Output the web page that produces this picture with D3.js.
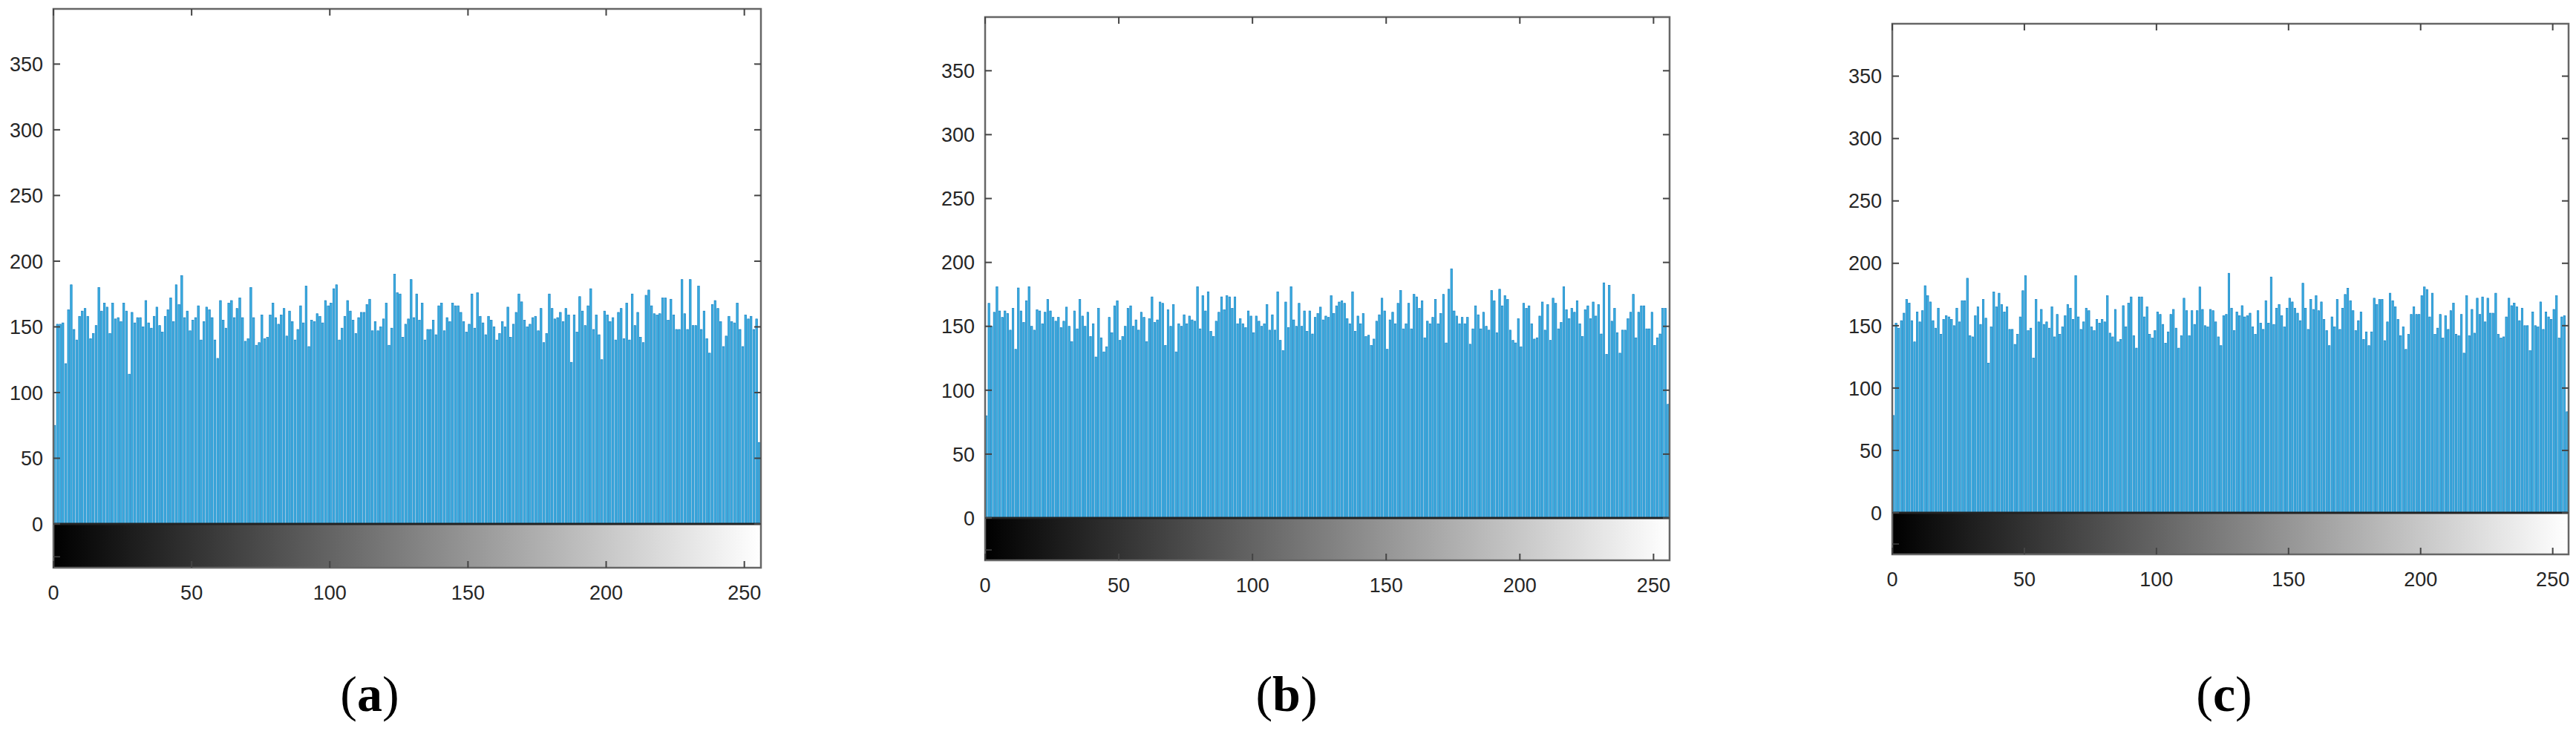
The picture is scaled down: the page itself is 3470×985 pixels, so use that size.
<!DOCTYPE html>
<html>
<head>
<meta charset="utf-8">
<script src="https://cdn.jsdelivr.net/npm/d3@7"></script>
<style>
  body { margin: 0; background: #fff; }
  svg text { font-family: "Liberation Sans", Arial, sans-serif; }
</style>
</head>
<body>
<svg id="chart"></svg>
<script>
// histogram counts per grey level (0..255)
const countsA = [75,152,152,153,122,163,182,148,140,158,162,164,158,141,145,151,180,162,168,165,145,168,156,157,154,168,162,114,161,153,157,157,150,170,153,149,158,165,151,146,158,163,172,154,182,167,189,157,162,147,155,157,166,140,154,165,163,157,140,126,170,155,149,168,170,157,164,172,157,139,141,180,157,136,138,159,141,142,159,168,157,152,159,164,143,162,154,140,148,166,153,181,135,155,154,160,158,153,170,166,168,179,182,140,149,158,170,162,155,145,157,161,161,167,171,147,154,147,150,156,168,136,149,190,176,175,142,152,156,186,157,175,155,168,140,148,148,155,144,166,168,147,157,154,168,166,166,161,154,146,152,175,149,176,158,153,144,158,155,150,140,145,154,150,165,142,152,161,175,169,155,150,152,157,158,147,164,138,145,175,164,156,157,161,154,164,159,123,159,146,173,162,151,166,179,148,159,144,125,162,159,154,157,140,161,164,141,168,140,175,151,161,142,138,174,178,166,160,159,160,172,172,155,171,159,148,148,186,160,148,186,151,151,181,148,162,141,130,167,170,164,154,135,143,158,154,153,168,148,135,159,156,158,148,156,62];
const countsB = [80,168,150,161,181,162,157,162,160,147,164,132,180,162,153,170,181,150,147,163,162,152,161,171,162,157,154,157,149,154,165,150,138,162,148,171,158,150,161,142,152,126,164,141,130,134,157,145,166,170,139,142,150,164,166,150,155,147,161,157,138,156,173,153,155,169,168,135,163,150,167,130,152,150,159,152,158,155,154,181,148,174,162,177,146,142,154,161,173,163,174,173,164,173,152,156,152,149,162,158,145,158,154,150,152,167,147,159,147,177,139,131,169,149,181,155,150,168,150,162,146,162,144,157,160,165,155,158,157,174,160,166,169,170,168,156,152,177,146,158,152,160,142,143,135,140,154,159,172,162,132,155,161,152,168,178,148,152,168,148,175,173,164,170,141,154,152,157,171,152,160,175,137,179,195,162,158,152,157,152,157,136,148,166,159,148,161,150,147,178,170,145,179,166,174,171,147,139,137,156,134,168,164,166,152,140,141,158,169,147,167,139,172,168,148,153,181,163,156,164,161,170,152,142,163,166,156,169,158,167,144,184,128,182,154,164,145,129,147,147,156,161,175,141,161,166,166,148,148,161,135,141,144,164,164,89];
const countsC = [78,152,148,154,160,171,168,154,137,161,153,162,182,174,169,154,148,164,143,155,158,157,155,150,164,153,170,170,188,142,141,158,165,151,171,156,120,149,177,165,176,167,161,165,147,147,135,143,157,178,190,146,148,124,171,153,163,151,153,148,165,141,159,143,149,158,167,164,155,190,157,147,153,164,162,149,146,155,152,155,153,174,144,141,163,137,139,166,149,168,173,142,132,173,173,157,165,143,140,146,161,159,151,136,145,159,163,148,132,142,172,162,142,162,151,162,181,163,150,149,163,162,153,141,134,158,159,192,164,146,161,158,166,157,158,160,149,143,162,152,147,170,152,189,151,164,167,158,149,164,172,169,164,160,154,184,164,147,171,163,174,162,169,155,146,134,157,149,171,147,164,175,180,170,162,146,154,161,139,145,134,145,172,167,171,171,138,153,176,170,165,155,142,149,131,143,159,165,159,159,174,181,179,157,176,143,148,159,140,158,147,162,168,143,142,159,128,174,142,163,144,172,159,173,153,172,160,160,176,143,140,141,157,172,166,168,165,154,164,150,150,130,161,150,149,169,147,161,157,155,163,174,140,157,158,81];
const captions = ["a", "b", "c"];
const yTicks = [0, 50, 100, 150, 200, 250, 300, 350];
const xTicks = [0, 50, 100, 150, 200, 250];

const W = 3470, H = 985;
const svg = d3.select("#chart").attr("width", W).attr("height", H);

// panel boxes: left, right, top, zero line, bottom
const panels = [
  { data: countsA, cap: captions[0], l: 72,   r: 1025, t: 12, z: 706, b: 765, cx: 498 },
  { data: countsB, cap: captions[1], l: 1327, r: 2249, t: 23, z: 698, b: 755, cx: 1733 },
  { data: countsC, cap: captions[2], l: 2549, r: 3460, t: 32, z: 691, b: 747, cx: 2996 }
];

const defs = svg.append("defs");
const grad = defs.append("linearGradient").attr("id", "grey");
grad.append("stop").attr("offset", "0%").attr("stop-color", "#000");
grad.append("stop").attr("offset", "100%").attr("stop-color", "#fff");

panels.forEach((p) => {
  const g = svg.append("g");
  const x = d3.scaleLinear().domain([0, 256]).range([p.l, p.r]);
  const y = d3.scaleLinear().domain([0, 392]).range([p.z, p.t]);
  const yBot = p.b;
  const bw = x(1) - x(0);

  // bars
  g.selectAll("rect.bar")
    .data(p.data)
    .enter()
    .append("rect")
    .attr("class", "bar")
    .attr("x", (d, i) => x(i) + bw * 0.1)
    .attr("y", (d) => y(d))
    .attr("width", bw * 0.66)
    .attr("height", (d) => y(0) - y(d))
    .attr("fill", "#3fb0e0")
    .attr("stroke", "#0b7bc2")
    .attr("stroke-width", 0.7);

  // grey level colourbar under the zero line
  g.append("rect")
    .attr("x", x(0)).attr("y", y(0))
    .attr("width", x(256) - x(0)).attr("height", yBot - y(0))
    .attr("fill", "url(#grey)");
  g.append("line")
    .attr("x1", x(0)).attr("x2", x(256))
    .attr("y1", y(0)).attr("y2", y(0))
    .attr("stroke", "#222").attr("stroke-width", 3);

  // box
  g.append("rect")
    .attr("x", x(0)).attr("y", p.t)
    .attr("width", x(256) - x(0)).attr("height", yBot - p.t)
    .attr("fill", "none").attr("stroke", "#666").attr("stroke-width", 2.5);

  // y ticks (inward, both sides)
  yTicks.forEach((v) => {
    g.append("line").attr("x1", x(0)).attr("x2", x(0) + 9)
      .attr("y1", y(v)).attr("y2", y(v)).attr("stroke", "#444").attr("stroke-width", 2);
    g.append("line").attr("x1", x(256)).attr("x2", x(256) - 9)
      .attr("y1", y(v)).attr("y2", y(v)).attr("stroke", "#444").attr("stroke-width", 2);
    g.append("text")
      .attr("x", x(0) - 14).attr("y", y(v))
      .attr("dy", "0.36em").attr("text-anchor", "end")
      .attr("font-size", 27).attr("fill", "#262626")
      .text(v);
  });
  // small tick at -25 on colourbar
  g.append("line").attr("x1", x(0)).attr("x2", x(0) + 9)
    .attr("y1", y(-25)).attr("y2", y(-25)).attr("stroke", "#444").attr("stroke-width", 1.5);

  // x ticks (top edge and bottom edge, inward)
  xTicks.forEach((v) => {
    g.append("line").attr("x1", x(v)).attr("x2", x(v))
      .attr("y1", p.t).attr("y2", p.t + 9).attr("stroke", "#444").attr("stroke-width", 2);
    g.append("line").attr("x1", x(v)).attr("x2", x(v))
      .attr("y1", yBot).attr("y2", yBot - 9).attr("stroke", "#444").attr("stroke-width", 2);
    g.append("text")
      .attr("x", x(v)).attr("y", yBot + 33)
      .attr("dy", "0.36em").attr("text-anchor", "middle")
      .attr("font-size", 27).attr("fill", "#262626")
      .text(v);
  });

  // caption
  const cap = g.append("text")
    .attr("x", p.cx).attr("y", 958)
    .attr("text-anchor", "middle")
    .attr("font-size", 68)
    .style("font-family", "'Liberation Serif', 'Times New Roman', serif")
    .attr("fill", "#000");
  cap.append("tspan").text("(");
  cap.append("tspan").attr("font-weight", "bold").text(p.cap);
  cap.append("tspan").text(")");
});
</script>
</body>
</html>
